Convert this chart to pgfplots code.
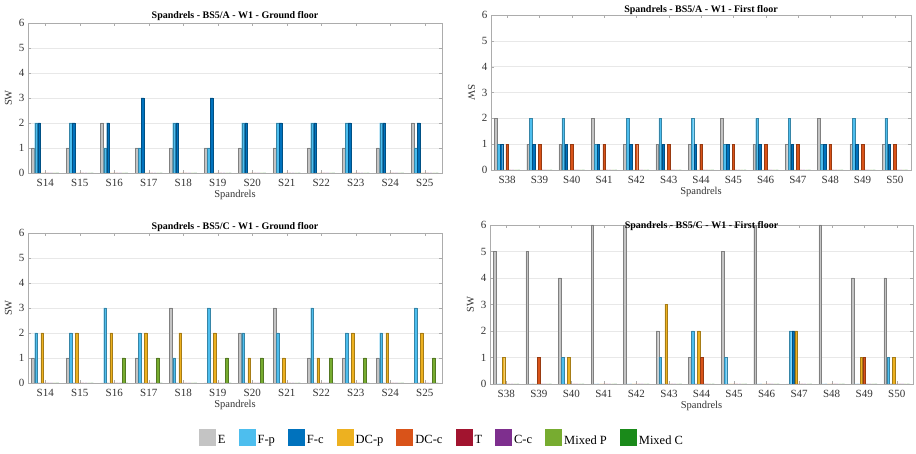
\documentclass[border=0pt]{standalone}
\usepackage{fontspec}
\setmainfont{Liberation Serif}
\usepackage{pgfplots}
\usepackage{pgfplotstable}
\pgfplotsset{compat=1.18}

\definecolor{cE}{HTML}{C4C4C4}
\definecolor{cFp}{HTML}{4DBEEE}
\definecolor{cFc}{HTML}{0072BD}
\definecolor{cDCp}{HTML}{EDB120}
\definecolor{cDCc}{HTML}{D95319}
\definecolor{cT}{HTML}{A2142F}
\definecolor{cCc}{HTML}{7E2F8E}
\definecolor{cMP}{HTML}{77AC30}
\definecolor{cMC}{HTML}{1A8A1A}

% columns: E F-p F-c DC-p DC-c T C-c MixedP MixedC
\pgfplotstableread{
x E Fp Fc DCp DCc T Cc MP MC
0 1 2 2 0 0 0 0 0 0
1 1 2 2 0 0 0 0 0 0
2 2 1 2 0 0 0 0 0 0
3 1 1 3 0 0 0 0 0 0
4 1 2 2 0 0 0 0 0 0
5 1 1 3 0 0 0 0 0 0
6 1 2 2 0 0 0 0 0 0
7 1 2 2 0 0 0 0 0 0
8 1 2 2 0 0 0 0 0 0
9 1 2 2 0 0 0 0 0 0
10 1 2 2 0 0 0 0 0 0
11 2 1 2 0 0 0 0 0 0
}\tAG
\pgfplotstableread{
x E Fp Fc DCp DCc T Cc MP MC
0 2 1 1 0 1 0 0 0 0
1 1 2 1 0 1 0 0 0 0
2 1 2 1 0 1 0 0 0 0
3 2 1 1 0 1 0 0 0 0
4 1 2 1 0 1 0 0 0 0
5 1 2 1 0 1 0 0 0 0
6 1 2 1 0 1 0 0 0 0
7 2 1 1 0 1 0 0 0 0
8 1 2 1 0 1 0 0 0 0
9 1 2 1 0 1 0 0 0 0
10 2 1 1 0 1 0 0 0 0
11 1 2 1 0 1 0 0 0 0
12 1 2 1 0 1 0 0 0 0
}\tAF
\pgfplotstableread{
x E Fp Fc DCp DCc T Cc MP MC
0 1 2 0 2 0 0 0 0 0
1 1 2 0 2 0 0 0 0 0
2 0 3 0 2 0 0 0 1 0
3 1 2 0 2 0 0 0 1 0
4 3 1 0 2 0 0 0 0 0
5 0 3 0 2 0 0 0 1 0
6 2 2 0 1 0 0 0 1 0
7 3 2 0 1 0 0 0 0 0
8 1 3 0 1 0 0 0 1 0
9 1 2 0 2 0 0 0 1 0
10 1 2 0 2 0 0 0 0 0
11 0 3 0 2 0 0 0 1 0
}\tCG
\pgfplotstableread{
x E Fp Fc DCp DCc T Cc MP MC
0 5 0 0 1 0 0 0 0 0
1 5 0 0 0 1 0 0 0 0
2 4 1 0 1 0 0 0 0 0
3 6 0 0 0 0 0 0 0 0
4 6 0 0 0 0 0 0 0 0
5 2 1 0 3 0 0 0 0 0
6 1 2 0 2 1 0 0 0 0
7 5 1 0 0 0 0 0 0 0
8 6 0 0 0 0 0 0 0 0
9 0 2 2 2 0 0 0 0 0
10 6 0 0 0 0 0 0 0 0
11 4 0 0 1 1 0 0 0 0
12 4 1 0 1 0 0 0 0 0
}\tCF

\pgfplotsset{
  spax/.style={
    scale only axis,
    ymin=0, ymax=6, ytick={0,1,2,3,4,5,6},
    tick align=inside,
    major tick length=3pt,
    ymajorgrids,
    grid style={gray!18, line width=0.4pt},
    axis line style={gray!65},
    tick style={gray!65},
    ticklabel style={font=\fontsize{11}{12}\selectfont, text=black!80},
    xticklabel style={yshift=-2.5pt},
    /pgf/number format/assume math mode=true,
    title style={font=\bfseries\fontsize{10}{12}\selectfont},
    label style={font=\fontsize{10.5}{12}\selectfont, text=black!80},
    xlabel={Spandrels}, ylabel={SW},
    xlabel style={yshift=3pt},
    legend image code/.code={\fill[#1,draw=none] (0pt,-5pt) rectangle (17pt,12pt);},
  },
  bbar/.style={ybar, bar width=0.08, line width=0.3pt},
  bE/.style={bbar, bar shift=-0.3556, fill=cE, draw=black!50},
  bFp/.style={bbar, bar shift=-0.2667, fill=cFp, draw=cFp!70!black},
  bFc/.style={bbar, bar shift=-0.1778, fill=cFc, draw=cFc!70!black},
  bDCp/.style={bbar, bar shift=-0.0889, fill=cDCp, draw=cDCp!70!black},
  bDCc/.style={bbar, bar shift=0, fill=cDCc, draw=cDCc!70!black},
  bT/.style={bbar, bar shift=0.0889, fill=cT, draw=cT!70!black},
  bCc/.style={bbar, bar shift=0.1778, fill=cCc, draw=cCc!70!black},
  bMP/.style={bbar, bar shift=0.2667, fill=cMP, draw=cMP!70!black},
  bMC/.style={bbar, bar shift=0.3556, fill=cMC, draw=cMC!70!black},
}

\newcommand{\allbars}[1]{%
  \addplot[bE] table[x=x,y=E]{#1};
  \addplot[bFp] table[x=x,y=Fp]{#1};
  \addplot[bFc] table[x=x,y=Fc]{#1};
  \addplot[bDCp] table[x=x,y=DCp]{#1};
  \addplot[bDCc] table[x=x,y=DCc]{#1};
  \addplot[bT] table[x=x,y=T]{#1};
  \addplot[bCc] table[x=x,y=Cc]{#1};
  \addplot[bMP] table[x=x,y=MP]{#1};
  \addplot[bMC] table[x=x,y=MC]{#1};
}

\begin{document}
\begin{tikzpicture}
\useasboundingbox (0pt,0pt) rectangle (916pt,454pt);

% top left
\begin{axis}[spax, at={(28pt,281pt)}, anchor=south west,
  width=414pt, height=150pt,
  xmin=-0.5, xmax=11.5, xtick={0,...,11},
  xticklabels={S14,S15,S16,S17,S18,S19,S20,S21,S22,S23,S24,S25},
  title={Spandrels - BS5/A - W1 - Ground floor}, title style={yshift=-7pt}]
\allbars{\tAG}
\end{axis}

% top right
\begin{axis}[spax, at={(491pt,284pt)}, anchor=south west,
  width=420pt, height=155pt,
  xmin=-0.5, xmax=12.5, xtick={0,...,12},
  xticklabels={S38,S39,S40,S41,S42,S43,S44,S45,S46,S47,S48,S49,S50},
  ylabel style={rotate=180},
  title={Spandrels - BS5/A - W1 - First floor}, title style={yshift=-9pt}]
\allbars{\tAF}
\end{axis}

% bottom left
\begin{axis}[spax, at={(28pt,71pt)}, anchor=south west,
  width=414pt, height=150pt,
  xmin=-0.5, xmax=11.5, xtick={0,...,11},
  xticklabels={S14,S15,S16,S17,S18,S19,S20,S21,S22,S23,S24,S25},
  title={Spandrels - BS5/C - W1 - Ground floor}, title style={yshift=-8pt},
  legend columns=9,
  legend style={at={(1.0,-0.367)}, anchor=center, draw=none, fill=none,
    font=\fontsize{12.5}{14}\selectfont,
    /tikz/every even column/.append style={column sep=11pt}},
  legend cell align=left]
\allbars{\tCG}
\legend{E,F-p,F-c,DC-p,DC-c,T,C-c,Mixed P,Mixed C}
\end{axis}

% bottom right
\begin{axis}[spax, at={(490pt,70pt)}, anchor=south west,
  width=423pt, height=159pt,
  xmin=-0.5, xmax=12.5, xtick={0,...,12},
  xticklabels={S38,S39,S40,S41,S42,S43,S44,S45,S46,S47,S48,S49,S50},
  title={Spandrels - BS5/C - W1 - First floor}, title style={yshift=-15pt}]
\allbars{\tCF}
\end{axis}
\end{tikzpicture}
\end{document}
